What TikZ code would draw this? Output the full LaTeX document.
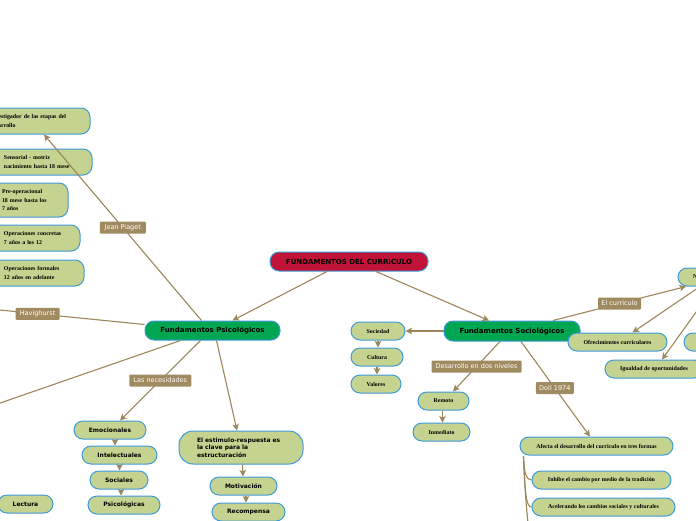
\documentclass[tikz,border=0pt]{standalone}
\usepackage{fontspec}
\setmainfont{DejaVu Sans}
\newfontfamily\vsans{DejaVu Sans}
\newfontfamily\tserif{Liberation Serif}
\usetikzlibrary{arrows.meta}
\definecolor{leaf}{RGB}{196,211,143}
\definecolor{bord}{RGB}{61,154,217}
\definecolor{connc}{RGB}{156,134,90}
\definecolor{lblbg}{RGB}{160,138,96}
\definecolor{rootred}{RGB}{193,18,56}
\definecolor{mgreen}{RGB}{0,166,81}
\begin{document}
\begin{tikzpicture}[x=1pt,y=-1pt,
  base/.style={draw=bord, line width=1pt, rounded corners=9pt, inner sep=0pt, align=center},
  sleaf/.style={base, fill=leaf, font=\vsans\bfseries\fontsize{6}{7.5}\selectfont, minimum height=18pt},
  tleaf/.style={base, fill=leaf, font=\tserif\bfseries\fontsize{5.9}{8.5}\selectfont, minimum height=18pt},
  mainn/.style={base, fill=mgreen, font=\vsans\bfseries\fontsize{7}{8}\selectfont, minimum height=19pt},
  lbl/.style={fill=lblbg, text=white, font=\vsans\fontsize{6.5}{7}\selectfont, inner sep=0pt, minimum height=12pt, rounded corners=1pt},
  conn/.style={draw=connc, line width=1.1pt},
  arr/.style={conn, -{Stealth[length=6.5pt,width=6.5pt,inset=1.5pt]}},
]
\useasboundingbox (0,0) rectangle (696,520);

% main nodes
\node[base, fill=rootred, font=\vsans\bfseries\fontsize{7}{8}\selectfont, minimum width=158pt, minimum height=19pt] (root) at (349,261.5) {FUNDAMENTOS DEL CURRICULO};
\node[mainn, minimum width=135pt] (psych) at (212.5,330.5) {Fundamentos Psicológicos};
\node[mainn, minimum width=136pt, minimum height=20pt] (socio) at (512,331) {Fundamentos Sociológicos};

% Piaget cluster
\node[tleaf, minimum height=26pt, text width=80pt, inner xsep=20pt, align=left] (inv) at (30,121) {Investigador de las etapas del\\desarrollo};
\node[tleaf, minimum height=26pt, text width=72pt, inner xsep=16pt, align=left] (sens) at (40,162) {Sensorial - motriz\\nacimiento hasta 18 mese};
\node[tleaf, minimum height=34pt, text width=52pt, inner xsep=14pt, align=left] (preop) at (28,200) {Pre-operacional\\18 mese hasta los\\7 años};
\node[tleaf, minimum height=26pt, text width=60pt, inner xsep=16pt, align=left] (opc) at (34,238) {Operaciones concretas\\7 años a los 12};
\node[tleaf, minimum height=26pt, text width=64pt, inner xsep=16pt, align=left] (opf) at (36,273) {Operaciones formales\\12 años en adelante};

% psych leaves
\node[sleaf, minimum width=72pt] (emo) at (110,430) {Emocionales};
\node[sleaf, minimum width=75pt] (int) at (119.5,455) {Intelectuales};
\node[sleaf, minimum width=58pt] (socl) at (119,480) {Sociales};
\node[sleaf, minimum width=72pt] (psi) at (124,505) {Psicológicas};
\node[sleaf, minimum width=55pt] (lec) at (25.5,504) {Lectura};
\node[sleaf, minimum height=33pt, text width=88pt, inner xsep=18pt, align=left, rounded corners=14pt, font=\vsans\bfseries\fontsize{6}{7.5}\selectfont] (est) at (241,447.5) {El estimulo-respuesta es\\la clave para la\\estructuración};
\node[sleaf, minimum width=67pt] (mot) at (243.5,486) {Motivación};
\node[sleaf, minimum width=73pt] (rec) at (248.5,512) {Recompensa};

% socio leaves
\node[tleaf, minimum width=54pt] (soc) at (378,331) {Sociedad};
\node[tleaf, minimum width=52pt] (cul) at (377,357) {Cultura};
\node[tleaf, minimum width=50pt] (val) at (376,384) {Valores};
\node[tleaf, minimum width=51pt] (rem) at (443.5,401) {Remoto};
\node[tleaf, minimum width=57pt] (inm) at (441.5,432) {Inmediato};
\node[tleaf, minimum width=153pt] (afe) at (596.5,446) {Afecta el desarrollo del curriculo en tres formas};
\node[tleaf, minimum width=139pt] (inh) at (601.5,480) {Inhibe el cambio por medio de la tradición};
\node[tleaf, minimum width=143pt] (ace) at (603.5,507) {Acelerando los cambios sociales y culturales};
\node[tleaf, minimum width=99pt] (ofr) at (617.5,342) {Ofrecimientos curriculares};
\node[tleaf, minimum width=98pt] (igu) at (654,369) {Igualdad de oportunidades};
\node[tleaf, text width=50pt, inner xsep=15pt, align=left] (nn) at (718,277) {N};
\node[tleaf, minimum width=60pt] (clip) at (714,342) {};

% off-page ends
\coordinate (hv) at (-20,308);
\coordinate (ll) at (-20,410);
\coordinate (offc) at (530,545);
\coordinate (brk) at ([xshift=4pt,yshift=-1pt]afe.south west);

% connectors
\draw[arr] ([xshift=-22pt]root.south) -- ([xshift=20pt]psych.north);
\draw[arr] ([xshift=27pt]root.south) -- ([xshift=-23pt]socio.north);

\draw[arr] ([xshift=-11pt]psych.north) -- node[lbl, pos=0.5, minimum width=46pt] (lj) {Jean Piaget} ([xshift=14pt]inv.south);
\draw[conn] ([yshift=6pt]psych.west) -- node[lbl, pos=0.65, minimum width=44pt] (lh) {Havighurst} (hv);
\draw[conn] ([xshift=-32pt]psych.south) -- (ll);
\draw[arr] ([xshift=-12pt]psych.south) -- node[lbl, pos=0.5, minimum width=62pt] (ln) {Las necesidades} ([xshift=10pt]emo.north);
\draw[arr] ([xshift=4pt]psych.south) -- ([xshift=-4pt]est.north);

\draw[arr] ([xshift=5pt]emo.south) -- ([xshift=-4.5pt]int.north);
\draw[arr] ([xshift=0pt]int.south) -- ([xshift=0.5pt]socl.north);
\draw[arr] ([xshift=2pt]socl.south) -- ([xshift=-3pt]psi.north);
\draw[arr] ([xshift=1.5pt]est.south) -- ([xshift=-0.5pt]mot.north);
\draw[arr] ([xshift=2.5pt]mot.south) -- ([xshift=-2.5pt]rec.north);

\draw[arr] (socio.west) -- (soc.east);
\draw[arr] (soc.south) -- ([xshift=1pt]cul.north);
\draw[arr] (cul.south) -- ([xshift=1pt]val.north);
\draw[arr] ([xshift=-12pt]socio.south) -- node[lbl, pos=0.5, minimum width=90pt] (ld) {Desarrollo en dos niveles} ([xshift=9.5pt]rem.north);
\draw[arr] ([xshift=-1pt]rem.south) -- ([xshift=1pt]inm.north);
\draw[arr] ([xshift=9pt]socio.south) -- node[lbl, pos=0.49, minimum width=38pt] (lo) {Doll 1974} ([xshift=-6.5pt]afe.north);
\draw[arr] ([xshift=41pt]socio.north) -- node[lbl, pos=0.5, minimum width=43pt] (lc) {El curriculo} ([xshift=-32pt]nn.south);
\draw[arr] ([xshift=-18pt]nn.south) -- ([xshift=15pt]ofr.north);
\draw[arr] ([xshift=-3.5pt]nn.south) -- ([xshift=8pt]igu.north);

\draw[conn] (brk) .. controls (524,472) and (526,480) .. (inh.west);
\draw[conn] (brk) .. controls (525,492) and (526,507) .. (ace.west);
\draw[conn] (brk) .. controls (525,500) and (528,520) .. (offc);
\end{tikzpicture}
\end{document}
